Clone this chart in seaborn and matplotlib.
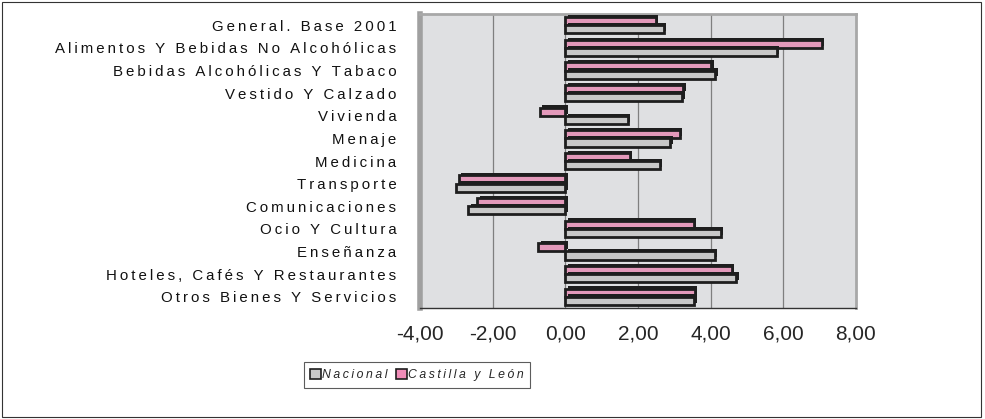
import pandas as pd
import numpy as np
import matplotlib
matplotlib.use("Agg")
import matplotlib.pyplot as plt
import matplotlib.patches as mpatches
import matplotlib.patheffects as pe
import seaborn as sns

# categories (top to bottom)
categorias = ["General. Base 2001", "Alimentos Y Bebidas No Alcohólicas",
              "Bebidas Alcohólicas Y Tabaco", "Vestido Y Calzado", "Vivienda",
              "Menaje", "Medicina", "Transporte", "Comunicaciones",
              "Ocio Y Cultura", "Enseñanza", "Hoteles, Cafés Y Restaurantes",
              "Otros Bienes Y Servicios"]
nacional = [2.72, 5.82, 4.13, 3.22, 1.72, 2.89, 2.61, -3.00, -2.67, 4.29, 4.12, 4.71, 3.55]
castilla = [2.49, 7.07, 4.02, 3.25, -0.69, 3.16, 1.78, -2.94, -2.42, 3.54, -0.74, 4.59, 3.57]
x_ticks = [-4, -2, 0, 2, 4, 6, 8]

def spaced(s, sep="\u2009"):
    # imitate the wide letter spacing of the original
    return sep.join(s)

df = pd.DataFrame({
    "cat": categorias * 2,
    "valor": nacional + castilla,
    "serie": ["Nacional"] * len(categorias) + ["Castilla y León"] * len(categorias),
})

sns.set_style("white")
plt.rcParams["font.family"] = ["Liberation Sans", "DejaVu Sans"]

fig = plt.figure(figsize=(9.85, 4.19), dpi=100)
ax = fig.add_axes([420 / 985, 1 - 308 / 419, 436 / 985, 294 / 419])
ax.set_facecolor("#DFE0E2")

colores = {"Nacional": "#C8C8C8", "Castilla y León": "#F08CB8"}
for g in [-2, 0, 2, 4, 6]:
    ax.axvline(g, color="#7F7F7F", lw=0.9, zorder=0)

sns.barplot(data=df, y="cat", x="valor", hue="serie",
            hue_order=["Castilla y León", "Nacional"], order=categorias,
            palette=colores, orient="h", width=0.72,
            edgecolor="#1E1E1E", linewidth=2.0, legend=False, ax=ax, zorder=3)

# dark offset shadow for the 3D look
for p in ax.patches:
    p.set_path_effects([pe.SimplePatchShadow(offset=(1.6, 1.6), shadow_rgbFace="#1E1E1E", alpha=1),
                        pe.Normal()])

ax.set_xlim(-4, 8)
ax.set_ylim(len(categorias) - 0.5, -0.5)
ax.set_xticks(x_ticks)
ax.set_xticklabels([f"{v:.2f}".replace(".", ",") for v in x_ticks], fontsize=15)
ax.set_yticks(range(len(categorias)))
ax.set_yticklabels([spaced(c) for c in categorias], fontsize=10.8, color="#111111")
ax.set_yticks(np.arange(-0.5, len(categorias), 1), minor=True)
ax.tick_params(axis="y", which="major", length=0, pad=17)
ax.tick_params(axis="y", which="minor", length=7, width=0.8, color="#333333", direction="out")
ax.tick_params(axis="x", length=5, width=0.8, color="#333333", pad=7)
ax.set_xlabel("")
ax.set_ylabel("")

for side in ["top", "right"]:
    ax.spines[side].set_color("#A8A8A8")
    ax.spines[side].set_linewidth(2)
ax.spines["left"].set_color("#A0A0A0")
ax.spines["left"].set_linewidth(4)
ax.spines["bottom"].set_color("#333333")
ax.spines["bottom"].set_linewidth(1)

handles = [mpatches.Patch(facecolor=colores[s], edgecolor="#1E1E1E", linewidth=1.2,
                          label=spaced(s)) for s in ["Nacional", "Castilla y León"]]
leg = fig.legend(handles=handles, loc="center", bbox_to_anchor=(417 / 985, 1 - 375 / 419),
                 ncol=2, frameon=True, fancybox=False, edgecolor="#333333",
                 prop={"style": "italic", "size": 8.8}, handlelength=0.85,
                 handleheight=0.85, handletextpad=0.12, columnspacing=0.7,
                 borderpad=0.55, borderaxespad=0.3)
leg.get_frame().set_linewidth(0.8)

fig.patches.append(mpatches.Rectangle((0.002, 0.004), 0.994, 0.992, transform=fig.transFigure,
                                      fill=False, edgecolor="#333333", linewidth=0.8))

fig.savefig("out.png", dpi=100)
